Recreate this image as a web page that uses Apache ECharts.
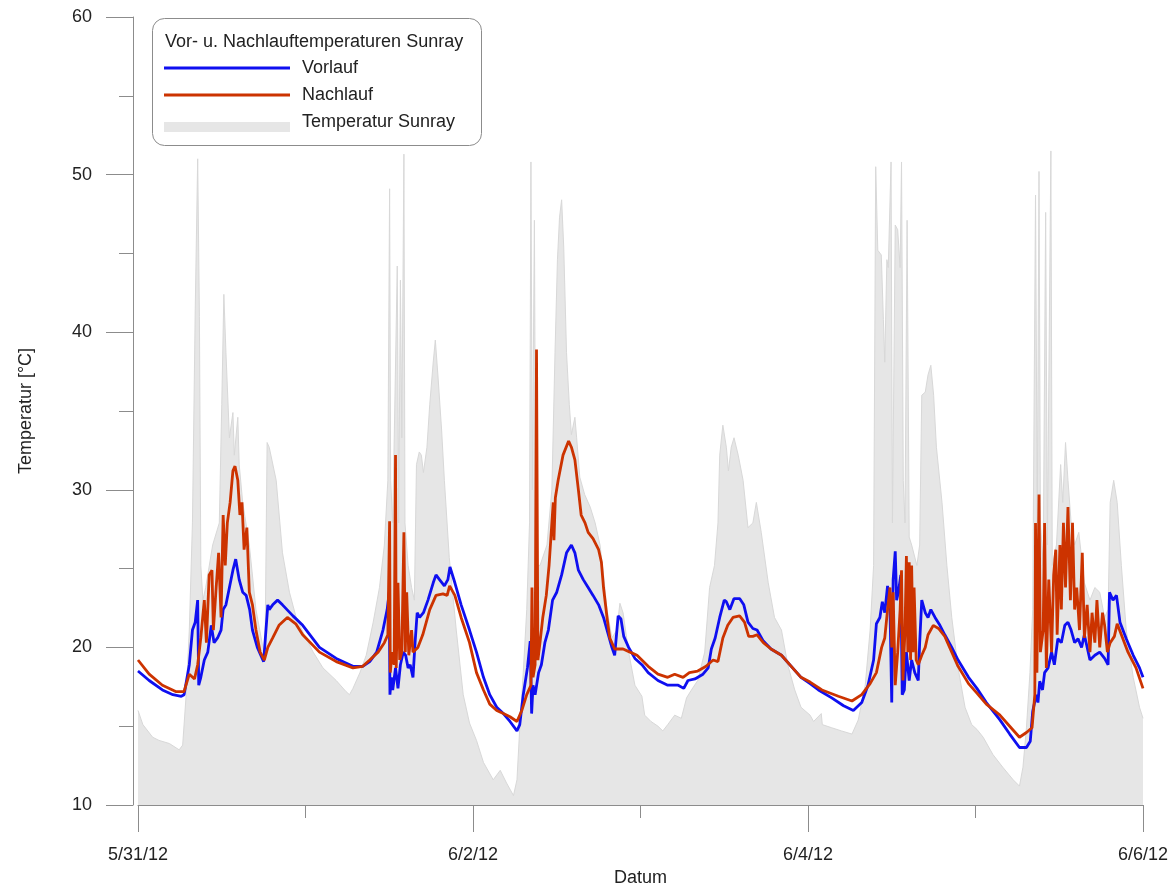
<!DOCTYPE html>
<html>
<head>
<meta charset="utf-8">
<title>Vor- u. Nachlauftemperaturen Sunray</title>
<script src="https://cdn.jsdelivr.net/npm/echarts@6/dist/echarts.min.js"></script>
<style>
  html, body { margin: 0; padding: 0; background: #fff; }
  #chart { width: 1171px; height: 885px; }
</style>
</head>
<body>
<div id="chart"></div>
<script>
// Time axis: hours since 5/31/12 00:00, labelled every 48 h
const dateLabels = ['5/31/12', '6/2/12', '6/4/12', '6/6/12'];

// Temperatur Sunray (collector temperature)
const sunrayHours = [0,0.7,2.1,3.0,4.5,5.9,6.4,6.9,7.35,7.8,8.2,8.55,8.8,9.0,9.3,9.7,10.7,11.65,12.0,12.3,12.6,13.1,13.6,13.8,14.3,14.5,15.0,15.95,16.9,17.9,18.2,18.5,18.8,19.8,20.7,21.7,22.6,23.6,25.1,26.5,28.4,29.8,30.3,30.8,31.8,32.7,33.7,34.6,35.3,35.8,36.05,36.2,36.5,37.15,37.35,37.6,37.8,38.1,38.25,38.7,39.2,39.6,39.9,40.3,40.6,40.9,41.4,41.8,42.3,42.6,43.0,43.5,43.9,44.6,45.6,46.6,47.5,48.5,49.5,50.9,51.9,52.8,53.8,54.3,54.7,55.2,55.7,56.1,56.3,56.5,56.8,57.0,57.6,58.6,59.3,59.75,60.1,60.4,60.7,61.0,61.4,61.8,62.1,62.6,62.85,63.3,64.0,64.8,65.5,66.2,66.7,67.2,67.9,68.6,69.05,69.5,70.3,71.2,72.2,72.6,73.5,74.5,75.2,75.9,76.9,77.85,78.6,79.3,80.2,81.2,81.9,82.6,83.1,83.35,83.8,84.3,84.6,85.0,85.4,86.0,86.7,87.4,88.1,88.6,89.3,90.3,91.2,92.2,93.1,94.1,95.0,96.3,96.8,97.9,98.05,99.4,100.8,102.3,103.2,104.2,104.9,105.4,105.7,106.0,106.5,106.8,107.0,107.3,107.5,107.9,108.1,108.5,108.85,109.2,109.4,109.65,109.9,110.2,110.5,110.85,111.6,112.0,112.3,112.8,113.2,113.6,114.0,114.4,115.2,115.9,116.6,117.5,118.5,119.45,120.2,121.1,122.5,123.9,125.4,126.3,126.8,127.3,127.8,128.2,128.6,128.85,129.1,129.3,129.7,130.05,130.3,130.8,131.0,131.6,132.2,132.5,132.9,133.25,133.7,134.2,134.8,135.2,135.6,136.4,137.1,137.8,138.5,139.0,139.3,139.8,140.3,140.9,141.6,142.6,143.5,144.0];
const sunrayTemp = [16.0,15.1,14.3,14.1,13.9,13.5,13.8,17.0,21.1,27.9,41.4,51.0,41.0,25.2,23.0,23.8,26.5,27.9,35.4,42.4,38.7,33.3,34.9,32.2,34.6,31.6,29.2,26.5,22.4,20.0,19.7,33.0,32.7,30.6,26.0,23.5,22.0,21.0,19.7,18.7,17.9,17.2,17.0,17.4,18.4,19.5,21.6,23.8,26.5,30.6,49.1,30.6,27.9,44.2,27.9,43.3,33.3,51.3,27.9,25.2,23.8,23.0,31.6,32.4,32.2,31.1,32.7,35.4,38.1,39.5,37.1,33.8,30.6,25.7,21.1,17.0,15.2,14.1,12.7,11.6,12.2,11.4,10.6,11.6,14.9,18.4,22.4,27.9,50.8,30.0,47.1,25.2,25.2,26.5,30.0,38.7,44.6,47.3,48.4,45.4,38.7,35.4,33.5,34.6,33.3,30.8,29.7,28.9,27.9,26.5,24.6,22.4,20.6,21.1,22.8,22.2,19.7,17.6,16.9,15.7,15.3,15.0,14.7,15.1,15.7,15.5,16.8,17.3,17.9,19.7,23.8,25.2,27.9,32.2,34.1,32.7,31.2,32.7,33.3,32.2,30.6,27.6,27.9,29.2,27.3,24.1,21.9,21.1,18.9,17.3,16.2,15.7,15.3,15.8,15.1,14.9,14.7,14.5,15.4,17.6,21.1,25.2,50.5,45.2,44.9,40.8,38.1,44.6,44.1,50.8,27.9,46.8,46.5,44.1,50.8,30.6,27.9,47.1,27.0,26.5,25.2,26.5,36.0,36.2,37.3,37.9,36.0,32.7,29.2,25.2,21.9,18.7,16.2,15.1,14.8,14.3,13.2,12.4,11.6,11.2,12.4,14.9,18.4,22.4,48.7,27.9,50.2,27.9,25.2,47.6,26.5,51.5,25.2,26.5,31.6,29.2,33.0,30.6,27.9,26.5,27.3,25.7,24.1,23.0,23.8,23.5,21.9,22.4,29.2,30.6,29.2,25.2,21.1,18.1,16.2,15.5];

// Vorlauf (flow temperature)
const vorlaufHours = [0,1.6,3.5,5.0,6.2,6.6,7.35,7.8,8.2,8.55,8.7,9.0,9.5,10.0,10.5,10.9,11.4,11.9,12.2,12.6,13.1,13.6,14.0,14.5,15.0,15.5,16.0,16.4,17.1,18.0,18.6,18.8,19.3,20.0,20.7,22.2,23.6,26.0,28.4,30.8,32.2,33.2,34.2,35.1,35.7,36.0,36.1,36.3,36.5,36.9,37.25,37.6,38.0,38.35,38.7,39.0,39.4,39.7,40.0,40.35,40.9,41.55,42.3,42.7,43.2,43.9,44.4,44.7,45.4,46.3,47.5,48.5,49.5,50.4,51.4,52.35,53.3,54.3,54.7,55.2,55.8,56.2,56.4,56.6,56.9,57.4,57.8,58.3,58.8,59.4,60.0,60.7,61.4,62.1,62.6,63.1,63.8,64.5,65.2,66.0,66.7,67.4,67.9,68.3,68.8,69.2,69.6,70.3,71.2,72.2,73.1,74.5,75.9,77.4,78.2,78.8,79.8,80.95,81.7,82.15,82.7,83.35,84.0,84.3,84.8,85.4,86.2,86.8,87.4,88.1,88.7,89.6,90.7,92.2,93.6,95.0,96.3,97.5,99.4,101.1,102.5,103.7,104.6,105.4,105.8,106.3,106.65,107.0,107.4,107.75,108.0,108.2,108.5,108.7,108.95,109.3,109.5,109.8,110.1,110.5,110.85,111.3,111.8,112.0,112.3,112.8,113.2,113.6,114.2,114.9,115.6,116.6,117.5,119.0,120.2,121.55,123.5,124.9,126.3,127.3,127.85,128.2,128.7,128.95,129.2,129.6,129.9,130.4,130.9,131.3,131.8,132.3,132.8,133.25,133.7,134.2,134.7,135.2,135.6,136.4,137.1,137.8,138.5,139.0,139.2,139.7,140.2,140.7,141.6,142.6,143.5,144.0];
const vorlaufTemp = [18.5,17.9,17.3,17.0,16.9,17.0,18.9,21.1,21.6,23.0,17.6,18.1,19.2,19.7,21.4,20.3,20.6,21.1,22.4,22.7,23.8,24.9,25.6,24.3,23.5,23.3,22.4,21.1,20.0,19.1,22.7,22.4,22.7,23.0,22.7,22.0,21.4,20.0,19.3,18.8,18.8,19.1,19.7,21.1,22.4,23.5,17.0,18.1,17.3,18.7,17.4,18.9,19.7,19.5,18.7,18.9,18.1,20.3,22.2,21.9,22.2,23.0,24.1,24.6,24.3,23.9,24.3,25.1,24.1,22.7,21.1,19.7,18.1,17.0,16.2,15.8,15.3,14.7,15.1,17.0,18.7,20.4,15.8,17.6,17.0,18.4,18.9,20.3,21.1,23.0,23.5,24.6,26.0,26.5,26.0,24.9,24.3,23.8,23.3,22.7,21.9,20.8,20.0,19.5,22.0,21.8,20.7,20.0,19.3,18.9,18.4,17.9,17.6,17.6,17.4,17.9,18.0,18.3,18.7,19.9,20.6,21.9,23.0,22.9,22.4,23.1,23.1,22.7,21.6,21.2,21.1,20.4,19.9,19.5,18.8,18.1,17.7,17.3,16.8,16.3,16.0,16.5,17.6,19.2,21.5,21.9,22.9,22.2,23.9,22.4,16.5,24.3,26.1,23.0,23.5,24.6,17.0,17.3,19.7,17.9,19.2,18.4,17.9,20.3,23.0,22.2,21.9,22.4,21.9,21.4,20.8,20.0,19.2,18.1,17.4,16.5,15.4,14.5,13.65,13.65,14.05,15.95,17.0,16.5,17.85,17.3,18.4,18.7,19.7,18.9,20.55,20.3,21.4,21.6,21.1,20.3,20.55,20.0,20.8,19.2,19.5,19.7,19.3,18.9,23.5,23.0,23.3,21.6,20.55,19.5,18.7,18.1];

// Nachlauf (return temperature)
const nachlaufHours = [0,1.6,3.5,5.4,6.6,7.35,8.1,8.55,9.0,9.5,9.8,10.2,10.6,10.8,11.2,11.55,11.9,12.2,12.5,12.8,13.2,13.6,13.9,14.3,14.6,14.9,15.2,15.6,15.95,16.4,16.9,17.5,18.1,18.6,19.3,20.2,21.4,22.6,23.6,26.0,28.4,30.8,32.2,33.2,34.4,35.3,35.8,36.05,36.15,36.4,36.7,36.9,37.0,37.25,37.5,37.8,38.1,38.3,38.5,38.8,39.2,39.4,40.1,40.8,41.8,42.7,43.7,44.3,44.65,45.4,46.3,47.5,48.5,49.5,50.4,51.4,52.35,53.3,54.3,55.0,55.7,56.3,56.45,56.6,56.9,57.1,57.3,57.6,58.0,58.5,58.9,59.3,59.5,59.6,59.8,60.2,60.9,61.7,62.1,62.6,63.1,63.5,64.05,64.5,65.2,66.0,66.4,66.7,67.2,67.6,68.3,69.5,70.5,71.5,73.1,74.5,75.9,76.9,78.1,79.0,80.2,81.4,82.4,83.1,83.8,84.5,85.25,86.2,86.9,87.5,88.1,88.7,89.6,90.7,92.2,93.6,95.0,96.3,98.0,100.35,102.3,103.7,104.9,105.8,106.55,107.0,107.4,107.75,108.0,108.2,108.5,108.85,109.2,109.4,109.6,109.9,110.1,110.3,110.5,110.7,110.85,111.05,111.2,111.5,111.8,112.3,112.8,113.2,113.95,114.7,115.6,116.6,117.5,119.0,120.2,121.55,123.5,124.9,126.3,127.3,128.1,128.5,128.6,128.8,129.1,129.3,129.7,129.9,130.15,130.5,130.9,131.2,131.5,131.7,132.1,132.3,132.6,132.9,133.25,133.6,133.9,134.2,134.5,134.9,135.3,135.6,136.0,136.4,136.7,137.1,137.4,137.8,138.2,138.5,138.9,139.3,139.9,140.3,140.9,141.85,143.0,144.0];
const nachlaufTemp = [19.2,18.3,17.6,17.2,17.2,18.3,18.0,18.9,20.6,23.0,20.3,24.6,24.9,21.1,23.8,26.0,21.9,28.4,25.2,27.9,29.2,31.2,31.5,30.6,28.4,29.2,26.2,27.6,23.5,22.7,21.1,19.7,19.2,20.0,20.6,21.4,21.9,21.5,20.8,19.7,19.1,18.7,18.8,19.2,19.7,20.3,20.8,28.0,18.4,19.7,18.9,32.2,18.7,24.1,19.2,19.7,27.3,19.7,23.5,19.5,21.1,19.7,20.0,20.8,22.4,23.3,23.4,23.3,23.9,23.3,21.9,20.3,18.4,17.3,16.4,16.0,15.8,15.6,15.3,16.0,17.0,17.6,23.8,18.1,18.9,38.9,19.2,20.3,21.9,23.3,25.2,27.9,29.2,26.8,29.5,30.6,32.2,33.1,32.7,31.9,30.0,28.4,27.9,27.3,26.9,26.2,25.4,23.8,21.9,20.6,19.9,19.9,19.7,19.5,18.8,18.3,18.1,18.3,18.1,18.4,18.5,18.8,19.2,19.1,20.6,21.4,21.9,22.0,21.6,20.7,20.7,20.8,20.3,19.9,19.5,18.8,18.1,17.8,17.3,16.9,16.6,17.0,17.7,18.4,20.0,20.6,22.4,23.8,20.0,23.5,17.6,19.7,22.4,24.9,17.9,21.1,25.8,19.7,25.4,19.2,25.2,19.7,23.8,19.2,18.9,19.5,20.0,20.8,21.4,21.2,20.7,19.7,18.8,17.7,17.1,16.4,15.7,15.0,14.3,14.6,14.9,17.0,27.9,18.4,29.7,19.7,21.1,27.9,18.7,24.3,19.7,24.6,26.2,20.8,26.5,22.4,27.9,23.8,28.9,23.0,27.9,22.4,23.8,21.1,26.0,20.6,22.7,19.7,22.2,20.3,23.0,20.0,22.2,21.4,19.7,20.3,20.7,21.5,20.8,19.7,18.7,17.4];

const pairs = (xs, ys) => xs.map((x, i) => [x, ys[i]]);

const FONT = '"Liberation Sans", Arial, Helvetica, sans-serif';
const AXIS_GREY = '#8c8c8c';
const BLUE = '#0f0ff0';
const RED = '#cc3300';
const AREA = '#e6e6e6';

const chart = echarts.init(document.getElementById('chart'), null, { renderer: 'canvas' });

chart.setOption({
  animation: false,
  backgroundColor: '#ffffff',
  textStyle: { fontFamily: FONT },
  grid: {
    left: 138, right: 28, top: 17, bottom: 80,
    containLabel: false,
    outerBoundsMode: 'none'
  },
  xAxis: {
    type: 'value',
    position: 'bottom',
    min: 0,
    max: 144,
    interval: 48,
    name: 'Datum',
    nameLocation: 'middle',
    nameGap: 62,
    nameTextStyle: { fontSize: 18, color: '#222', fontFamily: FONT },
    axisLine: { show: true, lineStyle: { color: AXIS_GREY, width: 1 } },
    axisTick: { show: true, length: 27, lineStyle: { color: AXIS_GREY } },
    minorTick: { show: true, splitNumber: 2, length: 13, lineStyle: { color: AXIS_GREY } },
    splitLine: { show: false },
    axisLabel: {
      margin: 41,
      fontSize: 18,
      color: '#222',
      fontFamily: FONT,
      formatter: v => dateLabels[Math.round(v / 48)] || ''
    }
  },
  yAxis: {
    type: 'value',
    position: 'left',
    offset: 5,
    min: 10,
    max: 60,
    interval: 10,
    name: 'Temperatur [°C]',
    nameLocation: 'middle',
    nameGap: 98,
    nameRotate: 90,
    nameTextStyle: { fontSize: 18, color: '#222', fontFamily: FONT },
    axisLine: { show: true, onZero: false, lineStyle: { color: AXIS_GREY, width: 1 } },
    axisTick: { show: true, length: 27, lineStyle: { color: AXIS_GREY } },
    minorTick: { show: true, splitNumber: 2, length: 14, lineStyle: { color: AXIS_GREY } },
    splitLine: { show: false },
    axisLabel: { margin: 41, fontSize: 18, color: '#222', fontFamily: FONT }
  },
  series: [
    {
      name: 'Temperatur Sunray',
      type: 'line',
      data: pairs(sunrayHours, sunrayTemp),
      showSymbol: false,
      symbol: 'none',
      lineStyle: { color: '#d8d8d8', width: 1 },
      areaStyle: { color: AREA, origin: 'start', opacity: 1 },
      z: 1
    },
    {
      name: 'Vorlauf',
      type: 'line',
      data: pairs(vorlaufHours, vorlaufTemp),
      showSymbol: false,
      symbol: 'none',
      lineStyle: { color: BLUE, width: 2.8 },
      z: 3
    },
    {
      name: 'Nachlauf',
      type: 'line',
      data: pairs(nachlaufHours, nachlaufTemp),
      showSymbol: false,
      symbol: 'none',
      lineStyle: { color: RED, width: 2.8 },
      z: 4
    }
  ],
  graphic: [
    {
      type: 'rect',
      shape: { x: 152.5, y: 18.5, width: 329, height: 127, r: 12 },
      style: { fill: '#ffffff', stroke: AXIS_GREY, lineWidth: 1 },
      z: 100
    },
    {
      type: 'text',
      x: 165, y: 42,
      style: { text: 'Vor- u. Nachlauftemperaturen Sunray', fill: '#222', fontSize: 18, fontFamily: FONT, verticalAlign: 'middle' },
      z: 101
    },
    {
      type: 'line',
      shape: { x1: 164, y1: 68, x2: 290, y2: 68 },
      style: { stroke: BLUE, lineWidth: 2.8 },
      z: 101
    },
    {
      type: 'text',
      x: 302, y: 68,
      style: { text: 'Vorlauf', fill: '#222', fontSize: 18, fontFamily: FONT, verticalAlign: 'middle' },
      z: 101
    },
    {
      type: 'line',
      shape: { x1: 164, y1: 95, x2: 290, y2: 95 },
      style: { stroke: RED, lineWidth: 2.8 },
      z: 101
    },
    {
      type: 'text',
      x: 302, y: 95,
      style: { text: 'Nachlauf', fill: '#222', fontSize: 18, fontFamily: FONT, verticalAlign: 'middle' },
      z: 101
    },
    {
      type: 'rect',
      shape: { x: 164, y: 122, width: 126, height: 10 },
      style: { fill: AREA },
      z: 101
    },
    {
      type: 'text',
      x: 302, y: 122,
      style: { text: 'Temperatur Sunray', fill: '#222', fontSize: 18, fontFamily: FONT, verticalAlign: 'middle' },
      z: 101
    }
  ]
});
</script>
</body>
</html>
